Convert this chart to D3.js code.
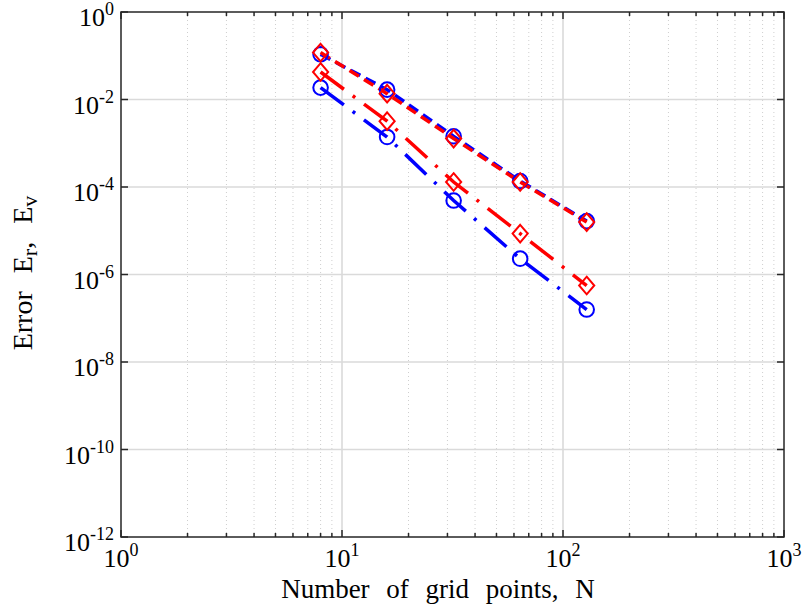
<!DOCTYPE html>
<html><head><meta charset="utf-8">
<script src="https://cdn.jsdelivr.net/npm/d3@7"></script>
<style>
html,body{margin:0;padding:0;background:#fff;}
svg text{font-family:"Liberation Serif","Times New Roman",serif;fill:#000;}
</style>
</head><body>
<svg id="chart" width="807" height="611"></svg>
<script>
// ---- data ----
const gridN = [8, 16, 32, 64, 128];
const blueDashed  = [0.108, 0.0168, 1.44e-3, 1.37e-4, 1.66e-5];
const redDashed   = [0.118, 0.0136, 1.28e-3, 1.30e-4, 1.58e-5];
const blueDashDot = [0.0187, 1.39e-3, 4.9e-5, 2.3e-6, 1.58e-7];
const redDashDot  = [0.0425, 3.2e-3, 1.30e-4, 8.6e-6, 5.6e-7];
const xTickExps = [0, 1, 2, 3];
const yTickExps = [0, -2, -4, -6, -8, -10, -12];
const xLabel = "Number of grid points, N";

const series = [
  {vals: blueDashed,  color: "#0000ff", dash: "11,6",         marker: "circle"},
  {vals: redDashed,   color: "#ff0000", dash: "11,6",         marker: "diamond"},
  {vals: blueDashDot, color: "#0000ff", dash: "29,11,3,11",   marker: "circle"},
  {vals: redDashDot,  color: "#ff0000", dash: "29,11,3,11",   marker: "diamond"}
];

// ---- layout ----
const L = 121, R = 784, T = 12, B = 537;
const svg = d3.select("#chart");
const x = d3.scaleLog().domain([1, 1000]).range([L, R]);
const y = d3.scaleLog().domain([1e-12, 1]).range([B, T]);

// minor x grid (dotted)
const minorX = [];
for (let d = 0; d < 3; d++) for (let k = 2; k <= 9; k++) minorX.push(k * Math.pow(10, d));
svg.append("g").selectAll("line").data(minorX).join("line")
  .attr("x1", d => x(d)).attr("x2", d => x(d)).attr("y1", T).attr("y2", B)
  .attr("stroke", "#cfcfcf").attr("stroke-width", 1).attr("stroke-dasharray", "1,3");

// major grid
const gMaj = svg.append("g");
gMaj.selectAll("line.vx").data(xTickExps.slice(1, -1)).join("line")
  .attr("x1", e => x(Math.pow(10, e))).attr("x2", e => x(Math.pow(10, e)))
  .attr("y1", T).attr("y2", B).attr("stroke", "#dadada").attr("stroke-width", 1.6);
gMaj.selectAll("line.hy").data(yTickExps.slice(1, -1)).join("line")
  .attr("class", "hy")
  .attr("y1", e => y(Math.pow(10, e))).attr("y2", e => y(Math.pow(10, e)))
  .attr("x1", L).attr("x2", R).attr("stroke", "#dadada").attr("stroke-width", 1.6);

// series lines
const line = d3.line().x((d, i) => x(gridN[i])).y(d => y(d));
series.forEach(s => {
  svg.append("path").datum(s.vals).attr("d", line)
    .attr("fill", "none").attr("stroke", s.color).attr("stroke-width", 3.5)
    .attr("stroke-dasharray", s.dash);
});
// markers
series.forEach(s => {
  const g = svg.append("g");
  if (s.marker === "circle") {
    g.selectAll("circle").data(s.vals).join("circle")
      .attr("cx", (d, i) => x(gridN[i])).attr("cy", d => y(d)).attr("r", 7.3)
      .attr("fill", "none").attr("stroke", s.color).attr("stroke-width", 2);
  } else {
    const h = 8.8;
    g.selectAll("path").data(s.vals).join("path")
      .attr("d", (d, i) => {
        const cx = x(gridN[i]), cy = y(d);
        return `M${cx},${cy - h}L${cx + h * 0.86},${cy}L${cx},${cy + h}L${cx - h * 0.86},${cy}Z`;
      })
      .attr("fill", "none").attr("stroke", s.color).attr("stroke-width", 2);
  }
});

// axes box
const axCol = "#262626";
svg.append("rect").attr("x", L).attr("y", T).attr("width", R - L).attr("height", B - T)
  .attr("fill", "none").attr("stroke", axCol).attr("stroke-width", 1.5);

// x ticks (major + minor, top and bottom)
const tk = svg.append("g").attr("stroke", axCol).attr("stroke-width", 1.5);
const xMajorVals = xTickExps.map(e => Math.pow(10, e));
minorX.concat(xMajorVals).forEach((v, i) => {
  const len = i >= minorX.length ? 7 : 4;
  tk.append("line").attr("x1", x(v)).attr("x2", x(v)).attr("y1", B).attr("y2", B - len);
  tk.append("line").attr("x1", x(v)).attr("x2", x(v)).attr("y1", T).attr("y2", T + len);
});
yTickExps.forEach(e => {
  const v = Math.pow(10, e);
  tk.append("line").attr("y1", y(v)).attr("y2", y(v)).attr("x1", L).attr("x2", L + 7);
  tk.append("line").attr("y1", y(v)).attr("y2", y(v)).attr("x1", R).attr("x2", R - 7);
});

// tick labels
const fs = 26, sfs = 18;
xTickExps.forEach(e => {
  const t = svg.append("text").attr("x", x(Math.pow(10, e))).attr("y", 567)
    .attr("text-anchor", "middle").style("font-size", fs + "px");
  t.append("tspan").text("10");
  t.append("tspan").attr("dy", -11).style("font-size", sfs + "px").text(String(e));
});
yTickExps.forEach(e => {
  const t = svg.append("text").attr("x", 114).attr("y", y(Math.pow(10, e)) + 14)
    .attr("text-anchor", "end").style("font-size", fs + "px");
  t.append("tspan").text("10");
  t.append("tspan").attr("dy", -11).style("font-size", sfs + "px").text(String(e));
});

// axis labels
svg.append("text").attr("x", 438).attr("y", 598).attr("text-anchor", "middle")
  .style("font-size", "27px").style("word-spacing", "10px").text(xLabel);

const yl = svg.append("text").attr("transform", `translate(32,273) rotate(-90)`)
  .attr("text-anchor", "middle").style("font-size", "28px").style("word-spacing", "11px");
yl.append("tspan").text("Error E");
yl.append("tspan").attr("dy", 5).style("font-size", "22px").text("r");
yl.append("tspan").attr("dy", -5).text(", E");
yl.append("tspan").attr("dy", 5).style("font-size", "22px").text("v");
</script>
</body></html>
